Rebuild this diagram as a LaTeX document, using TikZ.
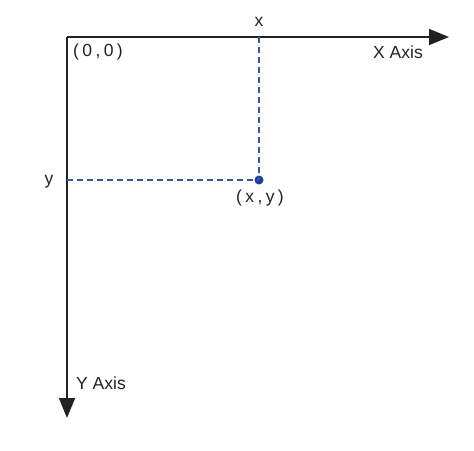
\documentclass[tikz,border=0pt]{standalone}
\usepackage{fontspec}
\setmainfont{Liberation Sans}
\usetikzlibrary{arrows.meta}
\definecolor{axis}{HTML}{222222}
\definecolor{dashblue}{HTML}{3556A6}
\definecolor{dotblue}{HTML}{1E3F9A}
\newcommand{\gapsp}{\hspace{3.4pt}}
\begin{document}
\begin{tikzpicture}[x=1pt,y=-1pt,
  axisline/.style={draw=axis,line width=1.7pt,-{Triangle[length=20pt,width=16pt]}},
  guide/.style={draw=dashblue,line width=1.3pt,dash pattern=on 6pt off 4pt},
  lbl/.style={font=\fontsize{17.5}{20}\selectfont,text=axis,inner sep=0pt}]
\useasboundingbox (0,0) rectangle (474,450);
\coordinate (O) at (67,37);
\coordinate (XE) at (449,37);
\coordinate (YE) at (67,418);
\coordinate (XT) at (259,37);
\coordinate (YT) at (67,180);
\node[circle,fill=dotblue,inner sep=0pt,minimum size=9pt] (P) at (259,180) {};
\draw[axisline] (O) -- (XE);
\draw[axisline] (O) -- (YE);
\draw[guide] (XT) -- (P.center);
\draw[guide] (YT) -- (P.center);
\node[lbl] (lx) at (259,22) {x};
\node[lbl] (ly) at (49,182) {y};
\node[lbl] (lo) at (98,52) {(\gapsp0\gapsp,\gapsp0\gapsp)};
\node[lbl] (lp) at (260,198) {(\gapsp x\gapsp,\gapsp y\gapsp)};
\node[lbl] (lxa) at (398,52) {X Axis};
\node[lbl] (lya) at (101,383) {Y Axis};
\end{tikzpicture}
\end{document}
